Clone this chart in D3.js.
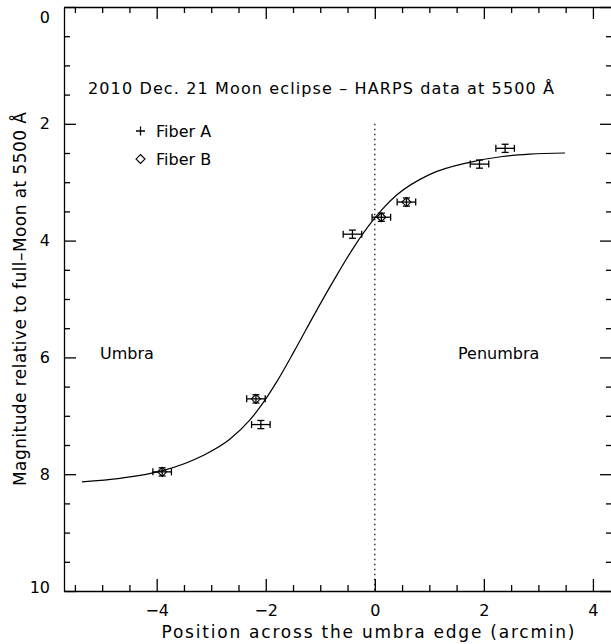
<!DOCTYPE html>
<html>
<head>
<meta charset="utf-8">
<script src="https://cdn.jsdelivr.net/npm/d3@7"></script>
<style>
  html, body { margin: 0; padding: 0; background: #fff; }
  svg { display: block; }
  text { font-family: "DejaVu Sans", "Liberation Sans", sans-serif; fill: #000; }
</style>
</head>
<body>
<svg id="chart" width="611" height="644"></svg>
<script>
// ---- data ----
const fiberAX = [-0.41, -2.09, 1.92, 2.39];
const fiberAY = [3.89, 7.15, 2.69, 2.42];
const fiberAXErr = [0.17, 0.17, 0.17, 0.17];
const fiberAYErr = [0.07, 0.07, 0.07, 0.07];

const fiberBX = [-3.90, -2.18, 0.12, 0.58];
const fiberBY = [7.96, 6.71, 3.60, 3.34];
const fiberBXErr = [0.17, 0.17, 0.17, 0.17];
const fiberBYErr = [0.07, 0.07, 0.07, 0.07];

const curveX = [-5.37, -4.67, -3.89, -3.15, -2.66, -2.29, -2.05, -1.80, -1.47, -1.10, -0.74, -0.41, -0.04, 0.14, 0.40, 1.00, 1.74, 2.34, 2.84, 3.49];
const curveY = [8.13, 8.07, 7.94, 7.68, 7.40, 7.07, 6.78, 6.42, 5.88, 5.25, 4.66, 4.15, 3.66, 3.46, 3.22, 2.87, 2.66, 2.56, 2.52, 2.50];

const xTicks = [-4, -2, 0, 2, 4];
const yTicks = [0, 2, 4, 6, 8, 10];
const xDomain = [-5.7, 4.35];
const yDomain = [0, 10];

const titleText = "2010 Dec. 21 Moon eclipse \u2013 HARPS data at 5500 \u00C5";
const xLabel = "Position across the umbra edge (arcmin)";
const yLabel = "Magnitude relative to full\u2013Moon at 5500 \u00C5";
const legendLabels = ["Fiber A", "Fiber B"];
const regionLabels = ["Umbra", "Penumbra"];

// ---- layout ----
const L = 64, R = 612, T = 7, B = 591;
const svg = d3.select("#chart");
const x = d3.scaleLinear().domain(xDomain).range([L, R]);
const y = d3.scaleLinear().domain(yDomain).range([T, B]);

const minorX = d3.range(-5.5, 4.35, 0.5).filter(v => Math.abs(v % 2) > 1e-6);
const minorY = d3.range(0.5, 10, 0.5).filter(v => Math.abs(v % 2) > 1e-6);

// bottom axis
svg.append("g").attr("transform", `translate(0,${B})`)
  .call(d3.axisBottom(x).tickValues(xTicks).tickSize(-12).tickFormat(d => d === 0 ? "0" : (d < 0 ? "\u2212" + Math.abs(d) : d)).tickPadding(14).tickSizeOuter(0))
  .call(g => { g.selectAll("text").attr("font-size", 16); g.selectAll("line, path").attr("stroke-width", 1.3); });
svg.append("g").attr("transform", `translate(0,${B})`)
  .call(d3.axisBottom(x).tickValues(minorX).tickSize(-6).tickFormat("").tickSizeOuter(0))
  .call(g => { g.select("path.domain").remove(); g.selectAll("line").attr("stroke-width", 1.3); });
// top axis
svg.append("g").attr("transform", `translate(0,${T})`)
  .call(d3.axisTop(x).tickValues(xTicks).tickSize(-12).tickFormat("").tickSizeOuter(0))
  .call(g => g.selectAll("line, path").attr("stroke-width", 1.3));
svg.append("g").attr("transform", `translate(0,${T})`)
  .call(d3.axisTop(x).tickValues(minorX).tickSize(-6).tickFormat("").tickSizeOuter(0))
  .call(g => { g.select("path.domain").remove(); g.selectAll("line").attr("stroke-width", 1.3); });
// left axis
svg.append("g").attr("transform", `translate(${L},0)`)
  .call(d3.axisLeft(y).tickValues(yTicks).tickSize(-12).tickPadding(14).tickSizeOuter(0))
  .call(g => {
    g.selectAll("text").attr("font-size", 16);
    g.selectAll("line, path").attr("stroke-width", 1.3);
    g.selectAll(".tick").filter(d => d === 0).select("text").attr("dy", "0.95em");
    g.selectAll(".tick").filter(d => d === 10).select("text").attr("dy", "0.1em");
  });
svg.append("g").attr("transform", `translate(${L},0)`)
  .call(d3.axisLeft(y).tickValues(minorY).tickSize(-6).tickFormat("").tickSizeOuter(0))
  .call(g => { g.select("path.domain").remove(); g.selectAll("line").attr("stroke-width", 1.3); });
// right axis
svg.append("g").attr("transform", `translate(${R},0)`)
  .call(d3.axisRight(y).tickValues(yTicks).tickSize(-12).tickFormat("").tickSizeOuter(0))
  .call(g => g.selectAll("line, path").attr("stroke-width", 1.3));
svg.append("g").attr("transform", `translate(${R},0)`)
  .call(d3.axisRight(y).tickValues(minorY).tickSize(-6).tickFormat("").tickSizeOuter(0))
  .call(g => { g.select("path.domain").remove(); g.selectAll("line").attr("stroke-width", 1.3); });

// dotted line at x = 0
svg.append("line")
  .attr("x1", x(0)).attr("x2", x(0)).attr("y1", y(2)).attr("y2", y(10))
  .attr("stroke", "#000").attr("stroke-width", 1.2).attr("stroke-dasharray", "1.5,3.5");

// fitted curve
const curvePts = curveX.map((v, i) => [v, curveY[i]]);
svg.append("path")
  .datum(curvePts)
  .attr("fill", "none").attr("stroke", "#000").attr("stroke-width", 1.2)
  .attr("d", d3.line().x(d => x(d[0])).y(d => y(d[1])).curve(d3.curveMonotoneX));

// error bars
function errorBars(xs, ys, xe, ye) {
  const g = svg.append("g").attr("stroke", "#000").attr("stroke-width", 1.3).attr("fill", "none");
  xs.forEach((xv, i) => {
    const cx = x(xv), cy = y(ys[i]);
    const x0 = x(xv - xe[i]), x1 = x(xv + xe[i]);
    const y0 = y(ys[i] - ye[i]), y1 = y(ys[i] + ye[i]);
    g.append("line").attr("x1", x0).attr("x2", x1).attr("y1", cy).attr("y2", cy);
    g.append("line").attr("x1", x0).attr("x2", x0).attr("y1", cy - 3.5).attr("y2", cy + 3.5);
    g.append("line").attr("x1", x1).attr("x2", x1).attr("y1", cy - 3.5).attr("y2", cy + 3.5);
    g.append("line").attr("x1", cx).attr("x2", cx).attr("y1", y0).attr("y2", y1);
    g.append("line").attr("x1", cx - 3.5).attr("x2", cx + 3.5).attr("y1", y0).attr("y2", y0);
    g.append("line").attr("x1", cx - 3.5).attr("x2", cx + 3.5).attr("y1", y1).attr("y2", y1);
  });
}
errorBars(fiberAX, fiberAY, fiberAXErr, fiberAYErr);
errorBars(fiberBX, fiberBY, fiberBXErr, fiberBYErr);

const diamond = (cx, cy, r) => `M${cx},${cy - r}L${cx + r},${cy}L${cx},${cy + r}L${cx - r},${cy}Z`;
svg.append("g").selectAll("path").data(fiberBX).join("path")
  .attr("d", (d, i) => diamond(x(d), y(fiberBY[i]), 4.5))
  .attr("fill", "none").attr("stroke", "#000").attr("stroke-width", 1.1);

// title
svg.append("text").attr("x", 88).attr("y", 94)
  .attr("font-size", 16).attr("textLength", 466).attr("lengthAdjust", "spacing")
  .text(titleText);

// legend
const legY = [131, 159];
svg.append("path").attr("d", `M136,${legY[0]}H145M140.5,${legY[0] - 4.5}V${legY[0] + 4.5}`)
  .attr("stroke", "#000").attr("stroke-width", 1.3);
svg.append("path").attr("d", diamond(140.5, legY[1], 4.5))
  .attr("fill", "none").attr("stroke", "#000").attr("stroke-width", 1.1);
legendLabels.forEach((t, i) => {
  svg.append("text").attr("x", 156).attr("y", legY[i] + 6).attr("font-size", 16).text(t);
});

// region labels
svg.append("text").attr("x", 100).attr("y", 359).attr("font-size", 16).text(regionLabels[0]);
svg.append("text").attr("x", 458).attr("y", 359).attr("font-size", 16).text(regionLabels[1]);

// axis titles
svg.append("text").attr("x", (L + 612) / 2 + 30).attr("y", 638).attr("text-anchor", "middle")
  .attr("font-size", 17).attr("textLength", 413).attr("lengthAdjust", "spacing")
  .text(xLabel);
svg.append("text").attr("transform", `translate(26,${(T + B) / 2}) rotate(-90)`)
  .attr("text-anchor", "middle").attr("font-size", 17).attr("textLength", 374).attr("lengthAdjust", "spacing")
  .text(yLabel);
</script>
</body>
</html>
